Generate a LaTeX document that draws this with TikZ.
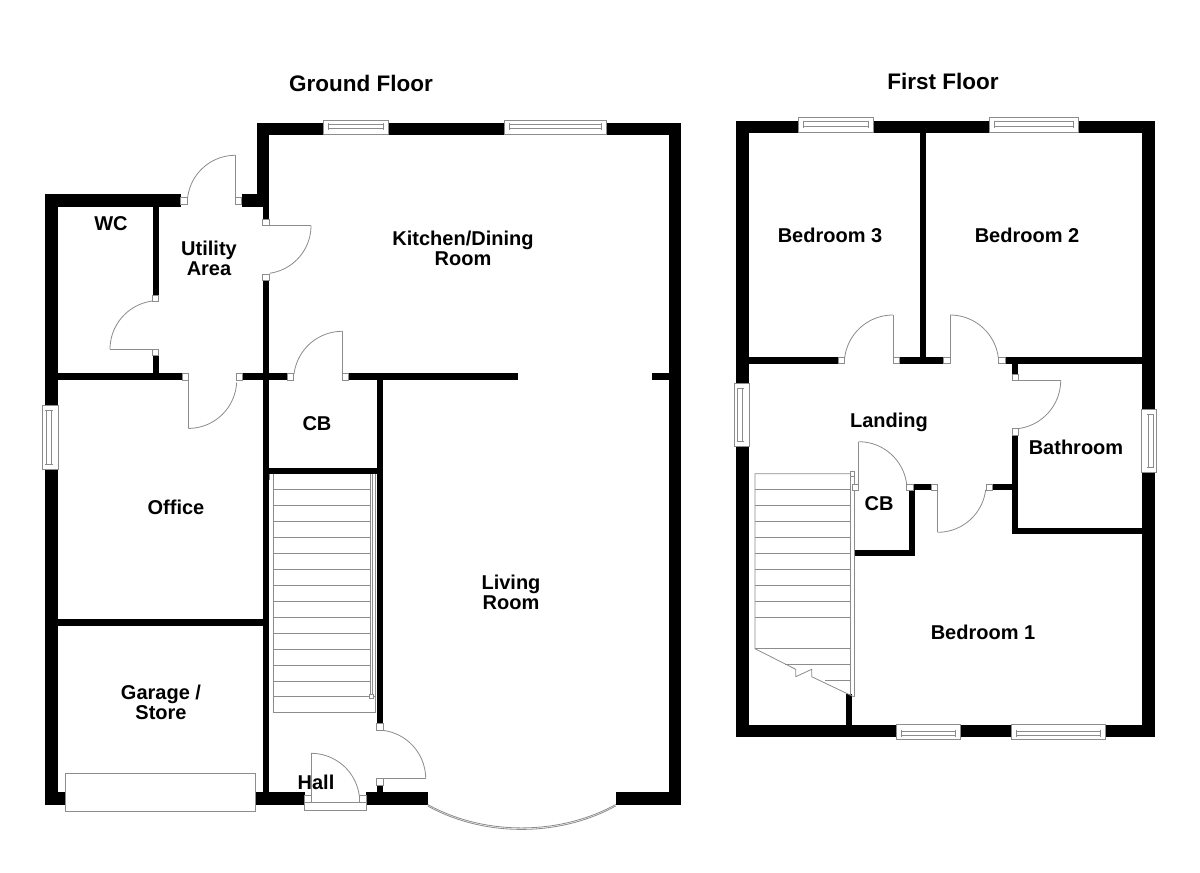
\documentclass[tikz,border=0pt]{standalone}
\usepackage{fontspec}
\setmainfont{Liberation Sans}
\definecolor{thin}{gray}{0.55}
\tikzset{
  x=1pt,y=-1pt,
  thinline/.style={draw=thin,line width=0.8pt},
  label/.style={font=\fontsize{20}{20}\selectfont\bfseries,align=center,inner sep=0pt,text=black},
  title/.style={font=\fontsize{22.5}{24}\selectfont\bfseries,inner sep=0pt,text=black},
}
\newcommand\wl[4]{\fill[black] (#1,#2) rectangle (#3,#4);}
\newcommand\pst[4]{\filldraw[thinline,fill=white] (#1,#2) rectangle (#3,#4);}
% centre x, centre y, radius, from angle, to angle (screen angles, y downwards)
\newcommand\darc[5]{\draw[thinline,smooth] plot[domain=#4:#5,samples=30,variable=\t] ({#1+#3*cos(\t)},{#2+#3*sin(\t)});}
\newcommand\hwin[6]{\filldraw[thinline,fill=white] (#1,#3) rectangle (#2,#4);
  \draw[thinline] ({#1+5},#5) rectangle ({#2-5},#6);
  \draw[thinline] ({#1+5},{#5-1}) -- ({#1+5},{#6+1}) ({#2-5},{#5-1}) -- ({#2-5},{#6+1});}
\newcommand\vwin[6]{\filldraw[thinline,fill=white] (#1,#3) rectangle (#2,#4);
  \draw[thinline] (#5,{#3+5}) rectangle (#6,{#4-5});
  \draw[thinline] ({#5-1},{#3+5}) -- ({#6+1},{#3+5}) ({#5-1},{#4-5}) -- ({#6+1},{#4-5});}
\begin{document}
\begin{tikzpicture}
\useasboundingbox (0,0) rectangle (1200,873);
\fill[white] (0,0) rectangle (1200,873);

% ---------- GROUND FLOOR: walls
\wl{45}{194.3}{57.5}{805.3}
\wl{45}{194.3}{180.7}{207.3}
\wl{241.7}{194.3}{262.7}{207.3}
\wl{257}{122.6}{269.3}{207.3}
\wl{262.7}{205}{269.3}{219.3}
\wl{257}{122.6}{681}{135}
\wl{669}{122.6}{681}{805.3}
\wl{262.7}{280.3}{269.3}{805}
\wl{152.7}{207}{158.7}{295}
\wl{152.7}{355.7}{158.7}{375}
\wl{57}{373.3}{182}{380}
\wl{242.7}{373.3}{287.3}{380}
\wl{348.7}{373.3}{518}{380}
\wl{652}{373.3}{670}{380}
\wl{376.7}{373.3}{383.3}{723.7}
\wl{263}{468.3}{383}{474.3}
\wl{57}{619}{263}{625.5}
\wl{376.7}{785}{383.3}{793}
\wl{45}{792.3}{304.7}{805.3}
\wl{366}{792.3}{427.7}{805.3}
\wl{615.7}{792.3}{681}{805.3}

% ground doors: leaves, arcs, posts
\draw[thinline] (235.3,197.3) -- (235.3,155.3);
\darc{235.3}{203.3}{48}{-90}{-173}
\pst{180.7}{197.3}{187.3}{204.3}
\pst{235.3}{197.3}{241.7}{204.3}
\draw[thinline] (269.3,225.7) -- (311,225.7);
\darc{263}{225.7}{48}{0}{82}
\pst{262.7}{219.3}{269.3}{225.7}
\pst{262.7}{274}{269.3}{280.3}
\draw[thinline] (152.7,349.3) -- (110,349.3);
\darc{158.7}{349.3}{48.7}{180}{263}
\pst{152.7}{295}{158.7}{301.3}
\pst{152.7}{349.3}{158.7}{355.7}
\draw[thinline] (188.3,380) -- (188.3,428);
\darc{188.3}{380}{48.4}{90}{3}
\pst{182}{373.3}{188.3}{380}
\pst{236.7}{373.3}{242.7}{380}
\draw[thinline] (342.3,373.3) -- (342.3,331.3);
\darc{342.3}{379.9}{48.6}{-90}{-173}
\pst{287.3}{373.3}{293.7}{380}
\pst{342.3}{373.3}{348.7}{380}
\draw[thinline] (383.3,778.7) -- (425.7,778.7);
\darc{377}{778.7}{48.7}{0}{-82}
\pst{376.7}{723.7}{383.3}{730}
\pst{376.7}{778.7}{383.3}{785}
\draw[thinline] (311,795.7) -- (311,753.3);
\darc{311}{802}{48.7}{-90}{-7}
\pst{304.7}{795.7}{311.3}{802}
\pst{359.3}{795.7}{366}{802}
\filldraw[thinline,fill=white] (304.7,802) rectangle (366,810.3);

% ground windows
\hwin{323.3}{388.3}{120.3}{134.7}{124}{128.7}
\hwin{504}{606}{120.3}{134.7}{124}{128.7}
\vwin{42.7}{58}{405}{469}{46}{51.7}
\filldraw[thinline,fill=white] (65.7,773.3) rectangle (255.7,811.3);
\draw[thinline] (427.7,804.5) .. controls (484,835.7) and (559,835.7) .. (615.7,804.5);
\draw[thinline] (427.7,806) .. controls (484,837.2) and (559,837.2) .. (615.7,806);

% ground stairs
\draw[thinline] (273.5,474.3) -- (273.5,712.3) -- (375,712.3) -- (375,696);
\draw[thinline] (269,474.3) -- (269,480);
\draw[thinline] (370,474.3) -- (370,696) (372.8,474.3) -- (372.8,694);
\draw[thinline] (375.5,474.3) -- (375.5,696);
\foreach \yy in {489.3,505.3,...,697}{\draw[thinline] (273.5,\yy) -- (370,\yy);}
\draw[thinline] (273.5,696.3) -- (375,696.3);
\pst{369.5}{694}{373.3}{698}

% ---------- FIRST FLOOR: walls
\wl{736.3}{121}{749}{737.3}
\wl{736.3}{121}{1154.7}{133}
\wl{1141.7}{121}{1154.7}{737.3}
\wl{736.3}{724.7}{1154.7}{737.3}
\wl{749}{357.3}{838.3}{363.7}
\wl{899.3}{357.3}{943.7}{363.7}
\wl{920.3}{133}{926.3}{358}
\wl{1005}{357.3}{1142}{363.7}
\wl{1012}{363}{1018.3}{374}
\wl{1012}{435}{1018.3}{534.3}
\wl{1012}{528}{1142}{534.3}
\wl{992.3}{484}{1012.5}{490.3}
\wl{913.3}{484}{931.3}{490.3}
\wl{909}{490}{915.3}{556.3}
\wl{854}{550}{915.3}{556.3}
\wl{846}{694}{852}{725}

% first windows
\hwin{798.7}{873.7}{117.7}{132.7}{121.7}{126.7}
\hwin{989}{1078.7}{117.7}{132.7}{121.7}{126.7}
\hwin{896.7}{960}{724.7}{739}{731}{735.5}
\hwin{1011}{1105.7}{724.7}{739}{731}{735.5}
\vwin{734}{749}{383.3}{446.7}{737.5}{742.7}
\vwin{1141.7}{1156.3}{409.3}{472.3}{1148}{1153}

% first stairs
\draw[thinline] (850.3,473.7) -- (755,473.7) -- (755,648.7) -- (795.7,669.3) -- (795.7,676.7) -- (811.7,669.3) -- (811.7,676.7) -- (853.7,696.7);
\draw[thinline] (850.3,473.7) -- (850.3,694.5) (854,490) -- (854,696.7);
\foreach \yy in {489.7,505.7,...,633}{\draw[thinline] (755,\yy) -- (850.3,\yy);}
\draw[thinline] (755,648.7) -- (850.3,648.7);
\draw[thinline] (785,664.3) -- (850.3,664.3);
\draw[thinline] (825,680.3) -- (850.3,680.3);
\draw[thinline] (854,476) -- (854,484);
\pst{850.3}{471.7}{854.3}{476}

% first doors
\draw[thinline] (893,357.3) -- (893,315);
\darc{893}{363.7}{48.7}{-90}{-173}
\pst{838.3}{357.3}{844.7}{363.7}
\pst{893}{357.3}{899.3}{363.7}
\draw[thinline] (950,357.3) -- (950,315);
\darc{950}{363.7}{48.7}{-90}{-7}
\pst{943.7}{357.3}{950}{363.7}
\pst{998.3}{357.3}{1005}{363.7}
\draw[thinline] (1018.3,380.3) -- (1060.7,380.3);
\darc{1012}{380.3}{48.7}{0}{83}
\pst{1012}{374}{1018.3}{380.3}
\pst{1012}{428.7}{1018.3}{435}
\draw[thinline] (937.7,490.3) -- (937.7,532.3);
\darc{937.7}{484}{48.3}{90}{7}
\pst{986}{484}{992.3}{490.3}
\pst{931.3}{484}{937.7}{490.3}
\draw[thinline] (858.7,484) -- (858.7,441.7);
\darc{858.7}{490}{48.3}{-90}{-7}
\pst{906.7}{484}{913.3}{490.3}
\pst{852}{484}{858.3}{490.3}

% ---------- labels
\node[title] (gf) at (361,83) {Ground Floor};
\node[title] (ff) at (943,81) {First Floor};
\node[label] (wc) at (111,224) {WC};
\node[label] (ut) at (209,258) {Utility\\Area};
\node[label] (kd) at (463,248) {Kitchen/Dining\\Room};
\node[label] (cb1) at (317,424) {CB};
\node[label] (of) at (176,507) {Office};
\node[label] (lr) at (511,592) {Living\\Room};
\node[label] (gs) at (161,702.5) {Garage /\\Store};
\node[label] (ha) at (316,782) {Hall};
\node[label] (b3) at (830,235) {Bedroom 3};
\node[label] (b2) at (1027,235) {Bedroom 2};
\node[label] (la) at (889,422.5) {Landing};
\node[label] (ba) at (1076,447) {Bathroom};
\node[label] (cb2) at (879,504) {CB};
\node[label] (b1) at (983,632) {Bedroom 1};
\end{tikzpicture}
\end{document}
